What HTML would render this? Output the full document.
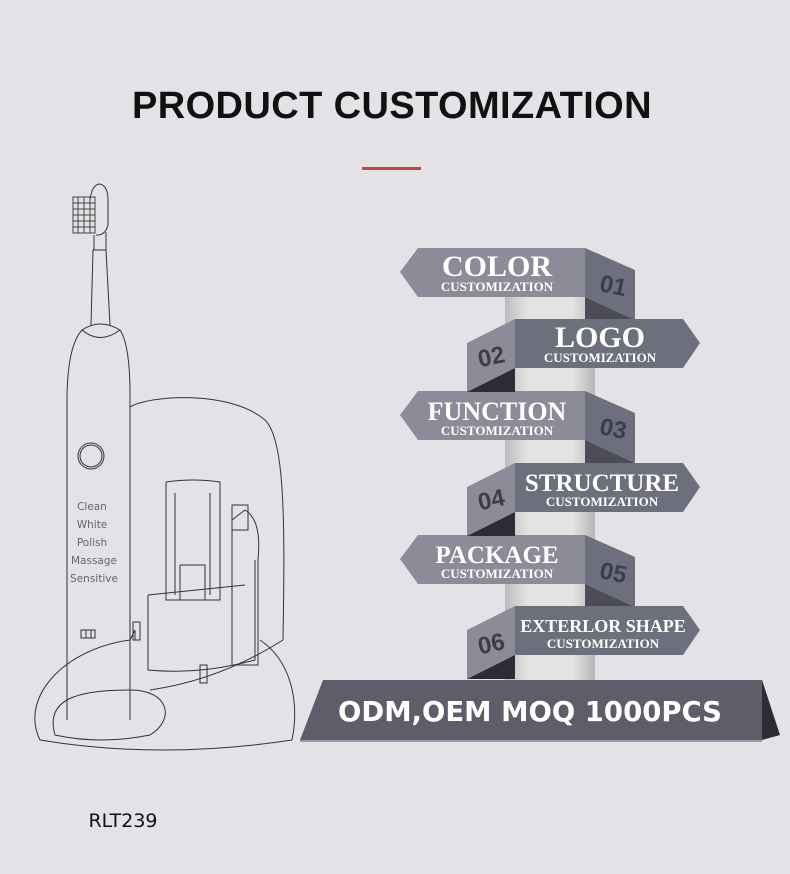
<!DOCTYPE html>
<html><head><meta charset="utf-8"><style>
html,body{margin:0;padding:0}
body{width:790px;height:874px;background:#e4e2e6;position:relative;overflow:hidden;font-family:"Liberation Sans",sans-serif}
.t{position:absolute;white-space:nowrap}
</style></head><body>
<div class="t" style="left:0;width:784px;text-align:center;top:85px;font-size:38px;font-weight:bold;color:#111;letter-spacing:0.4px">PRODUCT CUSTOMIZATION</div>
<div style="position:absolute;left:362px;top:167px;width:59px;height:3px;background:#c8453b"></div>

<svg width="790" height="874" style="position:absolute;left:0;top:0">
<defs>
<linearGradient id="pil" x1="0" x2="1"><stop offset="0" stop-color="#bcbcbf"/><stop offset="0.25" stop-color="#e3e4e2"/><stop offset="0.75" stop-color="#e3e4e2"/><stop offset="1" stop-color="#b6b6b9"/></linearGradient>
</defs>
<rect x="505" y="285" width="90" height="400" fill="url(#pil)"/>
<g id="L">
<polygon points="400,272 418,248 585,248 585,297 418,297" fill="#8c8c98"/>
<polygon points="585,248 635,270 635,320 585,297" fill="#6e6f7c"/>
<polygon points="585,297 635,320 585,320" fill="#4b4c58"/>
</g>
<use href="#L" y="143"/>
<use href="#L" y="287"/>
<g id="R">
<polygon points="515,319 683,319 700,343 683,368 515,368" fill="#6e6f7c"/>
<polygon points="467,343 515,319 515,368 467,392" fill="#8c8c98"/>
<polygon points="467,392 515,368 515,392" fill="#2b2c36"/>
</g>
<use href="#R" y="144"/>
<use href="#R" y="287"/>
<polygon points="323,680 762,680 762,740 300,740" fill="#5d5e69"/>
<polygon points="762,680 780,735 762,740" fill="#2b2c36"/>
<polygon points="300,740 762,740 762,742 300,742" fill="#9a9aa3"/>

<g font-family="Liberation Serif,serif" font-weight="bold" fill="#fff" text-anchor="middle">
<text x="497" y="276" font-size="30">COLOR</text><text x="497" y="291" font-size="13">CUSTOMIZATION</text>
<text x="600" y="347" font-size="30">LOGO</text><text x="600" y="362" font-size="13">CUSTOMIZATION</text>
<text x="497" y="420" font-size="26">FUNCTION</text><text x="497" y="435" font-size="13">CUSTOMIZATION</text>
<text x="602" y="491" font-size="25">STRUCTURE</text><text x="602" y="506" font-size="13">CUSTOMIZATION</text>
<text x="497" y="563" font-size="25">PACKAGE</text><text x="497" y="578" font-size="13">CUSTOMIZATION</text>
<text x="603" y="632" font-size="18">EXTERLOR SHAPE</text><text x="603" y="648" font-size="13">CUSTOMIZATION</text>
</g>
<g font-family="Liberation Sans Narrow,Liberation Sans,sans-serif" font-weight="bold" fill="#3c3d48" font-size="24">
<text x="600" y="293" transform="rotate(12 610 285)">01</text>
<text x="478" y="365" transform="rotate(-12 490 357)">02</text>
<text x="600" y="436" transform="rotate(12 610 428)">03</text>
<text x="478" y="508" transform="rotate(-12 490 500)">04</text>
<text x="600" y="580" transform="rotate(12 610 572)">05</text>
<text x="478" y="652" transform="rotate(-12 490 644)">06</text>
</g>
<text x="530" y="721" text-anchor="middle" font-family="DejaVu Sans,sans-serif" font-weight="bold" font-size="27.5" fill="#fff">ODM,OEM MOQ 1000PCS</text>

<g fill="none" stroke="#333" stroke-width="1">
<path d="M40,740 C20,700 60,650 130,640 L135,630 M292,740 C300,700 290,660 260,640"/>
<path d="M40,740 Q160,760 292,740"/>
<path d="M55,735 C45,700 75,690 130,690 C170,690 175,720 150,735 Q100,745 55,735Z"/>
<path d="M130,407 C150,395 230,390 265,420 C285,440 285,520 283,640"/>
<path d="M135,630 L135,640 M150,690 Q220,680 283,640"/>
<path d="M148,595 L148,670 Q200,675 255,660 L255,560 M148,595 L245,585"/>
<path d="M166,482 L166,600 L220,600 L220,482 Q193,478 166,482 M175,493 L175,595 M210,493 L210,595"/>
<path d="M180,565 L205,565 L205,600 M180,565 L180,600"/>
<path d="M232,520 L245,510 Q262,520 258,560 L258,665 L232,665 L232,520"/>
<path d="M232,505 L248,505 L248,530 L232,530Z"/>
<rect x="200" y="665" width="7" height="18"/>
<rect x="133" y="622" width="7" height="18"/>
<path d="M67,720 L67,395 Q68,345 82,330 Q100,318 120,330 Q130,345 130,395 L130,720"/>
<path d="M82,330 Q100,345 120,330"/>
<path d="M91,325 Q92,290 93,250 L106,250 Q108,290 110,325"/>
<path d="M94,250 L94,235 M106,250 L106,232"/>
<path d="M90,200 Q92,184 100,184 Q108,186 108,200 L108,225 Q105,236 96,235"/>
<g stroke="#444">
<rect x="73" y="197" width="22" height="36"/>
<path d="M73,203 H95 M73,209 H95 M73,215 H95 M73,221 H95 M73,227 H95 M78,197 V233 M84,197 V233 M90,197 V233"/>
</g>
<circle cx="91" cy="456" r="13"/>
<circle cx="91" cy="456" r="11"/>
<rect x="81" y="630" width="14" height="8"/>
<line x1="86" y1="630" x2="86" y2="638"/><line x1="91" y1="630" x2="91" y2="638"/>
</g>
<g font-family="DejaVu Sans,sans-serif" font-size="10.5" fill="#666" text-anchor="middle">
<text x="92" y="510">Clean</text><text x="92" y="528">White</text><text x="92" y="546">Polish</text><text x="94" y="564">Massage</text><text x="94" y="582">Sensitive</text>
</g>
<text x="123" y="827" text-anchor="middle" font-family="DejaVu Sans,sans-serif" font-size="19" fill="#111">RLT239</text>
</svg>
</body></html>
